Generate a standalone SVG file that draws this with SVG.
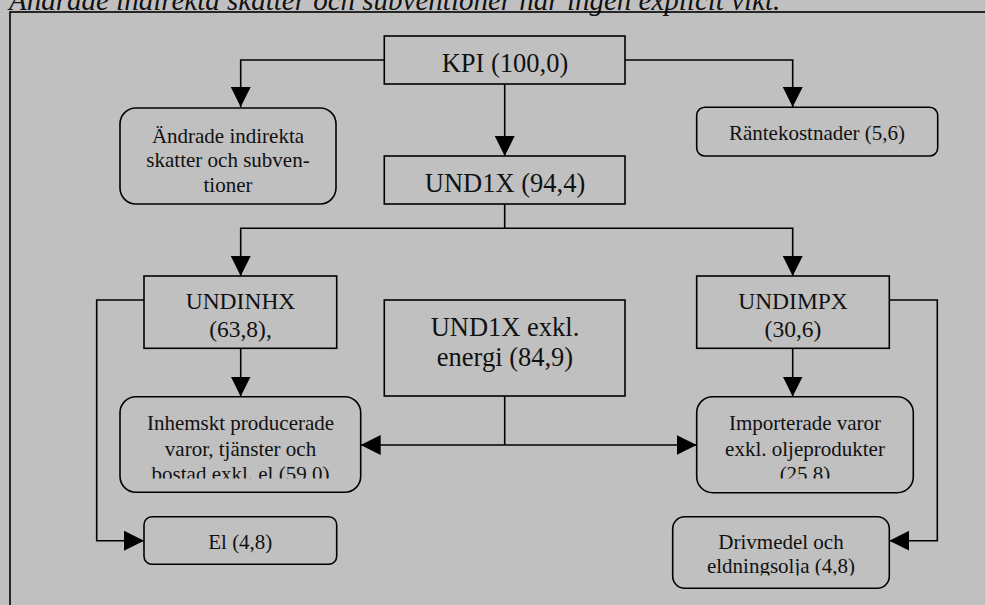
<svg xmlns="http://www.w3.org/2000/svg" width="985" height="605" viewBox="0 0 985 605">
<style>
.bx{fill:#C0C0C0;stroke:#000;stroke-width:1.6}
.ln{fill:none;stroke:#000;stroke-width:1.6}
text{font-family:"Liberation Serif","Times New Roman",serif;fill:#111;text-anchor:middle}
.big{font-size:26.5px}
.mid{font-size:23.5px}
.sm{font-size:21px}
.ttl{font-size:29px;font-style:italic;text-anchor:start}
</style>
<defs>
<marker id="ah" markerUnits="userSpaceOnUse" markerWidth="21" markerHeight="20" refX="20" refY="10" orient="auto" viewBox="0 0 21 20">
<path d="M0,0 L20,10 L0,20 Z" fill="#000"/>
</marker>
<clipPath id="c1"><rect x="100" y="390" width="300" height="88.5"/></clipPath>
<clipPath id="c2"><rect x="680" y="390" width="250" height="88.5"/></clipPath>
<clipPath id="c3"><rect x="660" y="510" width="240" height="65.5"/></clipPath>
</defs>
<rect x="0" y="0" width="985" height="605" fill="#C0C0C0"/>
<text class="ttl" x="9" y="10">Ändrade indirekta skatter och subventioner har ingen explicit vikt.</text>
<rect x="10" y="12" width="1000" height="700" class="ln"/>

<g id="connectors">
<path class="ln" d="M384,60 H240.7 V107" marker-end="url(#ah)"/>
<path class="ln" d="M625,60 H792.7 V107" marker-end="url(#ah)"/>
<path class="ln" d="M504.7,84 V156" marker-end="url(#ah)"/>
<path class="ln" d="M504.7,204 V228.3 H240.7 V276" marker-end="url(#ah)"/>
<path class="ln" d="M504.7,228.3 H792.7 V276" marker-end="url(#ah)"/>
<path class="ln" d="M240.7,348.3 V396.5" marker-end="url(#ah)"/>
<path class="ln" d="M792.7,348.3 V396.5" marker-end="url(#ah)"/>
<path class="ln" d="M144,300 H96.7 V540.7 H144" marker-end="url(#ah)"/>
<path class="ln" d="M889.3,300 H937.3 V540.7 H889.3" marker-end="url(#ah)"/>
<path class="ln" d="M504.7,396 V445"/>
<path class="ln" d="M504.7,445 H360.7" marker-end="url(#ah)"/>
<path class="ln" d="M504.7,445 H696.7" marker-end="url(#ah)"/>
</g>

<g id="kpi">
<rect class="bx" x="384.3" y="36" width="240.7" height="48"/>
<text class="big" x="505" y="72">KPI (100,0)</text>
</g>
<g id="andrade">
<rect class="bx" x="120" y="108" width="216" height="96" rx="16"/>
<text class="sm" x="228" y="142.5">Ändrade indirekta</text>
<text class="sm" x="228" y="167">skatter och subven-</text>
<text class="sm" x="228" y="191.5">tioner</text>
</g>
<g id="rantekostnader">
<rect class="bx" x="696.7" y="107.3" width="241" height="48.7" rx="8"/>
<text class="sm" x="817" y="139.5">Räntekostnader (5,6)</text>
</g>
<g id="und1x">
<rect class="bx" x="384.3" y="156" width="240.7" height="48"/>
<text class="big" x="505" y="192">UND1X (94,4)</text>
</g>
<g id="undinhx">
<rect class="bx" x="144" y="276" width="192.7" height="72.3"/>
<text class="mid" x="240.5" y="309.3">UNDINHX</text>
<text class="mid" x="240.5" y="336.5">(63,8),</text>
</g>
<g id="und1x-exkl">
<rect class="bx" x="384.3" y="300" width="240.7" height="96"/>
<text class="big" x="505" y="336">UND1X exkl.</text>
<text class="big" x="505" y="366">energi (84,9)</text>
</g>
<g id="undimpx">
<rect class="bx" x="696.7" y="276" width="192.6" height="72.3"/>
<text class="mid" x="793" y="309.3">UNDIMPX</text>
<text class="mid" x="793" y="336.5">(30,6)</text>
</g>
<g id="inhemskt">
<rect class="bx" x="120" y="396.7" width="240.7" height="95.6" rx="16"/>
<g clip-path="url(#c1)">
<text class="sm" x="240.5" y="430">Inhemskt producerade</text>
<text class="sm" x="240.5" y="455.5">varor, tjänster och</text>
<text class="sm" x="240.5" y="481">bostad exkl. el (59,0)</text>
</g>
</g>
<g id="importerade">
<rect class="bx" x="696.7" y="396.7" width="216.6" height="96" rx="16"/>
<g clip-path="url(#c2)">
<text class="sm" x="805" y="430">Importerade varor</text>
<text class="sm" x="805" y="455.5">exkl. oljeprodukter</text>
<text class="sm" x="805" y="481">(25,8)</text>
</g>
</g>
<g id="el">
<rect class="bx" x="144" y="516.7" width="192.7" height="47.6" rx="8"/>
<text class="sm" x="240.3" y="548.5">El (4,8)</text>
</g>
<g id="drivmedel">
<rect class="bx" x="672.7" y="516.7" width="216.6" height="71.6" rx="12"/>
<g clip-path="url(#c3)">
<text class="sm" x="781" y="548.5">Drivmedel och</text>
<text class="sm" x="781" y="573.3">eldningsolja (4,8)</text>
</g>
</g>
</svg>
